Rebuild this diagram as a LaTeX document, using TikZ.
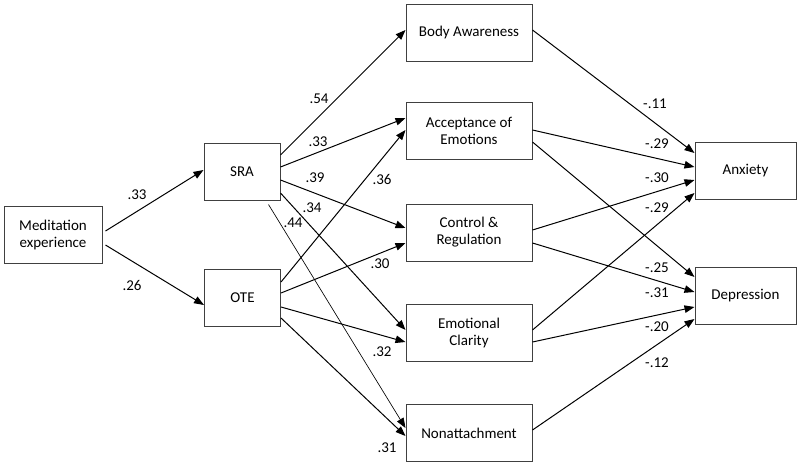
\documentclass[tikz,border=0pt]{standalone}
\usepackage{fontspec}
\setmainfont{Carlito}
\usetikzlibrary{arrows.meta}
\begin{document}
\begin{tikzpicture}[x=1pt,y=-1pt,
  box/.style={draw=black!75,line width=1pt,rectangle,minimum height=57pt,align=center,inner sep=0pt,font=\fontsize{15}{17}\selectfont},
  conn/.style={line width=1pt,-{Triangle[length=10pt,width=7.5pt]}},
  thin/.style={line width=0.65pt,-{Triangle[length=10pt,width=7.5pt]}},
  lab/.style={font=\fontsize{15}{17}\selectfont,inner sep=0pt}]
\useasboundingbox[fill=white] (0,0) rectangle (800,466);
% nodes
\node[box,minimum width=98pt] (med) at (53,234.5) {Meditation\\experience};
\node[box,minimum width=76pt] (sra) at (242,171.5) {SRA};
\node[box,minimum width=76pt] (ote) at (242.5,297.5) {OTE};
\node[box,minimum width=126pt] (body) at (469,32.5) {Body Awareness};
\node[box,minimum width=126pt] (acc) at (469,131) {Acceptance of\\Emotions};
\node[box,minimum width=126pt] (ctrl) at (469,232.5) {Control \&\\Regulation};
\node[box,minimum width=126pt] (clar) at (469,332.5) {Emotional\\Clarity};
\node[box,minimum width=126pt] (non) at (469,433) {Nonattachment};
\node[box,minimum width=101pt] (anx) at (745.5,170.5) {Anxiety};
\node[box,minimum width=101pt] (dep) at (745.5,296) {Depression};
% connectors
\draw[conn] ([xshift=3pt,yshift=3.5pt]med.east) -- ([yshift=1.5pt]sra.west);
\draw[conn] ([xshift=3pt,yshift=-10.5pt]med.east) -- ([yshift=-7.5pt]ote.west);
\draw[conn] ([yshift=16.5pt]sra.east) -- ([yshift=2.5pt]body.west);
\draw[conn] ([yshift=4.5pt]sra.east) -- ([yshift=13pt]acc.west);
\draw[conn] ([yshift=-8.5pt]sra.east) -- ([yshift=4.5pt]ctrl.west);
\draw[conn] ([yshift=-21.5pt]sra.east) -- ([yshift=2.5pt]clar.west);
\draw[thin] ([xshift=-12pt,yshift=-4pt]sra.south east) -- ([yshift=5pt]non.west);
\draw[conn] ([yshift=15.5pt]ote.east) -- ([yshift=1pt]acc.west);
\draw[conn] ([yshift=4.5pt]ote.east) -- ([yshift=-10.5pt]ctrl.west);
\draw[conn] ([yshift=-9.5pt]ote.east) -- ([yshift=-9.5pt]clar.west);
\draw[conn] ([yshift=-20.5pt]ote.east) -- ([yshift=-3pt]non.west);
\draw[conn] ([yshift=2.5pt]body.east) -- ([yshift=17.5pt]anx.west);
\draw[conn] ([yshift=1pt]acc.east) -- ([yshift=3.5pt]anx.west);
\draw[conn] ([yshift=-11pt]acc.east) -- ([yshift=19pt]dep.west);
\draw[conn] ([yshift=2.5pt]ctrl.east) -- ([yshift=-9.5pt]anx.west);
\draw[conn] ([yshift=-10.5pt]ctrl.east) -- ([yshift=4pt]dep.west);
\draw[conn] ([yshift=2.5pt]clar.east) -- ([yshift=-22.5pt]anx.west);
\draw[conn] ([yshift=-9.5pt]clar.east) -- ([yshift=-11pt]dep.west);
\draw[conn] ([yshift=3pt]non.east) -- ([yshift=-23pt]dep.west);
% labels
\node[lab] (l1) at (137,195) {.33};
\node[lab] (l2) at (132,285) {.26};
\node[lab] (l3) at (319,99) {.54};
\node[lab] (l4) at (318,142) {.33};
\node[lab] (l5) at (315,178) {.39};
\node[lab] (l6) at (382,179) {.36};
\node[lab] (l7) at (312,208) {.34};
\node[lab] (l8) at (293,223) {.44};
\node[lab] (l9) at (380,264) {.30};
\node[lab] (l10) at (382,352) {.32};
\node[lab] (l11) at (387,448) {.31};
\node[lab] (r1) at (655,104) {-.11};
\node[lab] (r2) at (657,144) {-.29};
\node[lab] (r3) at (657,178) {-.30};
\node[lab] (r4) at (657,208) {-.29};
\node[lab] (r5) at (657,268) {-.25};
\node[lab] (r6) at (657,293) {-.31};
\node[lab] (r7) at (657,327) {-.20};
\node[lab] (r8) at (657,363) {-.12};
\end{tikzpicture}
\end{document}
